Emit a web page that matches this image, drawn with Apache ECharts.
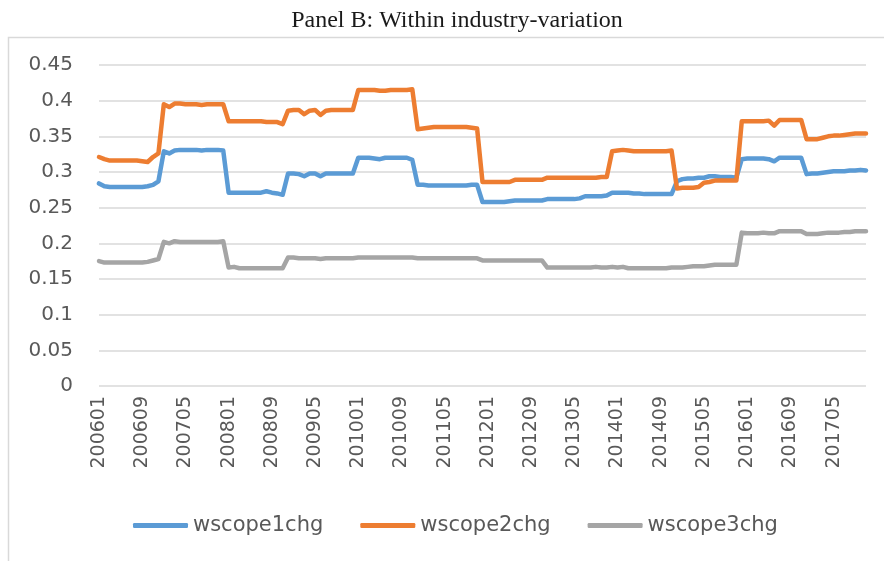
<!DOCTYPE html>
<html>
<head>
<meta charset="utf-8">
<script src="https://cdn.jsdelivr.net/npm/echarts@6/dist/echarts.min.js"></script>
<style>
  html, body { margin: 0; padding: 0; background: #fff; }
  #chart { width: 884px; height: 561px; }
</style>
</head>
<body>
<div id="chart"></div>
<script>
// months 200601 .. 201711
var months = [];
for (var y = 2006; y <= 2017; y++) {
    for (var m = 1; m <= 12; m++) {
        if (y === 2017 && m > 11) break;
        months.push(String(y) + (m < 10 ? '0' + m : m));
    }
}

// one row per year
var wscope1chg = [
    0.284,0.280,0.279,0.279,0.279,0.279,0.279,0.279,0.279,0.280,0.282,0.287,
    0.329,0.326,0.330,0.331,0.331,0.331,0.331,0.330,0.331,0.331,0.331,0.330,
    0.271,0.271,0.271,0.271,0.271,0.271,0.271,0.273,0.271,0.270,0.268,0.298,
    0.298,0.297,0.294,0.298,0.298,0.294,0.298,0.298,0.298,0.298,0.298,0.298,
    0.320,0.320,0.320,0.319,0.318,0.320,0.320,0.320,0.320,0.320,0.317,0.282,
    0.282,0.281,0.281,0.281,0.281,0.281,0.281,0.281,0.281,0.282,0.282,0.258,
    0.258,0.258,0.258,0.258,0.259,0.260,0.260,0.260,0.260,0.260,0.260,0.262,
    0.262,0.262,0.262,0.262,0.262,0.263,0.266,0.266,0.266,0.266,0.267,0.271,
    0.271,0.271,0.271,0.270,0.270,0.269,0.269,0.269,0.269,0.269,0.269,0.287,
    0.290,0.291,0.291,0.292,0.292,0.294,0.294,0.293,0.293,0.293,0.292,0.318,
    0.319,0.319,0.319,0.319,0.318,0.315,0.320,0.320,0.320,0.320,0.320,0.297,
    0.298,0.298,0.299,0.300,0.301,0.301,0.301,0.302,0.302,0.303,0.302
];

var wscope2chg = [
    0.321,0.318,0.316,0.316,0.316,0.316,0.316,0.316,0.315,0.314,0.321,0.326,
    0.395,0.391,0.396,0.396,0.395,0.395,0.395,0.394,0.395,0.395,0.395,0.395,
    0.371,0.371,0.371,0.371,0.371,0.371,0.371,0.370,0.370,0.370,0.367,0.386,
    0.387,0.387,0.381,0.386,0.387,0.380,0.386,0.387,0.387,0.387,0.387,0.387,
    0.415,0.415,0.415,0.415,0.414,0.414,0.415,0.415,0.415,0.415,0.416,0.360,
    0.361,0.362,0.363,0.363,0.363,0.363,0.363,0.363,0.363,0.362,0.361,0.286,
    0.286,0.286,0.286,0.286,0.286,0.289,0.289,0.289,0.289,0.289,0.289,0.292,
    0.292,0.292,0.292,0.292,0.292,0.292,0.292,0.292,0.292,0.293,0.293,0.329,
    0.330,0.331,0.330,0.329,0.329,0.329,0.329,0.329,0.329,0.329,0.330,0.277,
    0.278,0.278,0.278,0.279,0.285,0.286,0.288,0.288,0.288,0.288,0.288,0.371,
    0.371,0.371,0.371,0.371,0.372,0.365,0.373,0.373,0.373,0.373,0.373,0.346,
    0.346,0.346,0.348,0.350,0.351,0.351,0.352,0.353,0.354,0.354,0.354
];

var wscope3chg = [
    0.175,0.173,0.173,0.173,0.173,0.173,0.173,0.173,0.173,0.174,0.176,0.178,
    0.202,0.200,0.203,0.202,0.202,0.202,0.202,0.202,0.202,0.202,0.202,0.203,
    0.166,0.167,0.165,0.165,0.165,0.165,0.165,0.165,0.165,0.165,0.165,0.180,
    0.180,0.179,0.179,0.179,0.179,0.178,0.179,0.179,0.179,0.179,0.179,0.179,
    0.180,0.180,0.180,0.180,0.180,0.180,0.180,0.180,0.180,0.180,0.180,0.179,
    0.179,0.179,0.179,0.179,0.179,0.179,0.179,0.179,0.179,0.179,0.179,0.176,
    0.176,0.176,0.176,0.176,0.176,0.176,0.176,0.176,0.176,0.176,0.176,0.166,
    0.166,0.166,0.166,0.166,0.166,0.166,0.166,0.166,0.167,0.166,0.166,0.167,
    0.166,0.167,0.165,0.165,0.165,0.165,0.165,0.165,0.165,0.165,0.166,0.166,
    0.166,0.167,0.168,0.168,0.168,0.169,0.170,0.170,0.170,0.170,0.170,0.215,
    0.214,0.214,0.214,0.215,0.214,0.214,0.217,0.217,0.217,0.217,0.217,0.213,
    0.213,0.213,0.214,0.215,0.215,0.215,0.216,0.216,0.217,0.217,0.217
];

var seriesNames = ['wscope1chg', 'wscope2chg', 'wscope3chg'];
var seriesColors = ['#5b9bd5', '#ed7d31', '#a5a5a5'];
var seriesData = [wscope1chg, wscope2chg, wscope3chg];

var chart = echarts.init(document.getElementById('chart'));

var series = seriesData.map(function (d, k) {
    return {
        name: seriesNames[k],
        type: 'line',
        data: d,
        showSymbol: false,
        symbol: 'none',
        lineStyle: { width: 4.5, color: seriesColors[k], cap: 'round', join: 'round' },
        itemStyle: { color: seriesColors[k] }
    };
});

var option = {
    backgroundColor: '#ffffff',
    animation: false,
    title: {
        text: 'Panel B: Within industry-variation',
        left: 452,
        top: 4,
        textAlign: 'center',
        textStyle: {
            fontFamily: 'Liberation Serif',
            fontWeight: 'normal',
            fontSize: 24,
            color: '#1a1a1a'
        }
    },
    graphic: [{
        type: 'rect',
        z: -1,
        shape: { x: 8.5, y: 37.5, width: 900, height: 600 },
        style: { fill: 'none', stroke: '#d9d9d9', lineWidth: 1.5 }
    }],
    legend: {
        left: 128,
        top: 510,
        itemWidth: 55,
        itemHeight: 5,
        itemGap: 37,
        icon: 'roundRect',
        data: seriesNames,
        textStyle: { fontFamily: 'DejaVu Sans', fontSize: 21, color: '#595959' }
    },
    grid: { left: 99, right: 18, top: 65, bottom: 175 },
    xAxis: {
        type: 'category',
        data: months,
        boundaryGap: false,
        axisLine: { show: false },
        axisTick: { show: false },
        splitLine: { show: false },
        axisLabel: {
            interval: 7,
            rotate: 90,
            margin: 10,
            fontFamily: 'DejaVu Sans',
            fontSize: 19,
            color: '#595959'
        }
    },
    yAxis: {
        type: 'value',
        min: 0,
        max: 0.45,
        interval: 0.05,
        axisLine: { show: false },
        axisTick: { show: false },
        splitLine: { lineStyle: { color: '#d9d9d9', width: 1.5 } },
        axisLabel: {
            margin: 26,
            fontFamily: 'DejaVu Sans',
            fontSize: 20,
            color: '#595959'
        }
    },
    series: series
};

chart.setOption(option);
</script>
</body>
</html>
